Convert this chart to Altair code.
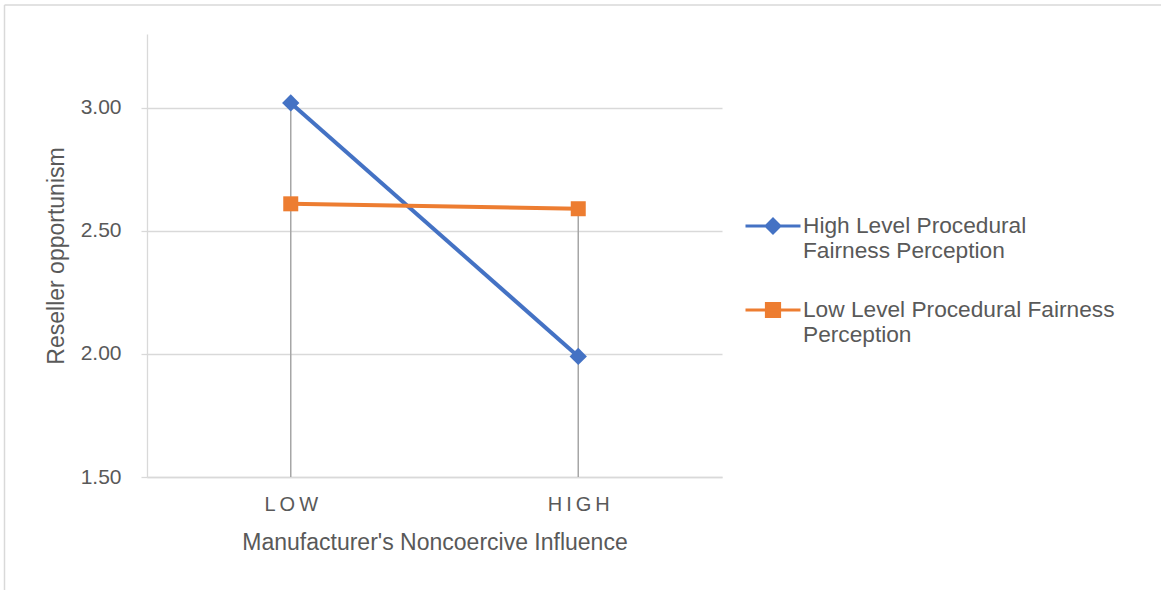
import altair as alt
import pandas as pd

# ---- data ----
categories = ["LOW", "HIGH"]
series_names = ["High Level Procedural Fairness Perception",
                "Low Level Procedural Fairness Perception"]
high_level_values = [3.02, 1.99]
low_level_values = [2.61, 2.59]
y_ticks = [1.5, 2.0, 2.5, 3.0]
y_domain = [1.5, 3.3]
series_colors = ["#4472C4", "#ED7D31"]
series_shapes = ["diamond", "square"]
marker_sizes = [300, 225]

rows = []
for s, vals in zip(series_names, [high_level_values, low_level_values]):
    for c, v in zip(categories, vals):
        rows.append({"category": c, "series": s, "value": v})
df = pd.DataFrame(rows)

drop = df.groupby("category", as_index=False)["value"].max()
drop["base"] = y_domain[0]

FONT = "Liberation Sans"
TXT = "#595959"
GRID = "#d9d9d9"

W, H = 575, 443
PAD_L, PAD_T = 147, 34
TOTAL_W, TOTAL_H = 1161, 590

# legend symbol paths (line + marker), unit = sqrt(size)/2
path_diamond = "M-1,0H1M-0.25,0L0,-0.25L0.25,0L0,0.25Z"
path_square = "M-1,0H1M-0.24,-0.24H0.24V0.24H-0.24Z"
sym_expr = f"datum.value == '{series_names[0]}' ? '{path_diamond}' : '{path_square}'"
label_expr = ("datum.value == 'High Level Procedural Fairness Perception' ? "
              "['High Level Procedural', 'Fairness Perception'] : "
              "['Low Level Procedural Fairness', 'Perception']")

x_enc = alt.X("category:N", sort=categories,
              scale=alt.Scale(type="point", padding=0.5, domain=categories),
              axis=alt.Axis(title="Manufacturer's Noncoercive Influence",
                            labelExpr="join(split(datum.label, ''), '\u2009')",
                            labelAngle=0, ticks=False, grid=False,
                            domainColor=GRID, domainWidth=1.3,
                            labelFontSize=20, titleFontSize=23,
                            labelPadding=17, titlePadding=17))
y_enc = alt.Y("value:Q",
              scale=alt.Scale(domain=y_domain, nice=False, zero=False),
              axis=alt.Axis(values=y_ticks, format=".2f", title="Reseller opportunism",
                            grid=True, gridColor=GRID, gridWidth=1.3,
                            domainColor=GRID, domainWidth=1.3,
                            tickColor=GRID, tickSize=6, tickWidth=1.3,
                            labelFontSize=21, titleFontSize=23,
                            labelPadding=20, titlePadding=12))
legend = alt.Legend(title=None, orient="none", legendX=597, legendY=163,
                    labelExpr=label_expr, labelLimit=400, labelFontSize=22.7,
                    labelColor=TXT, labelFont=FONT, padding=0, rowPadding=18,
                    symbolSize=3025, symbolStrokeWidth=3, labelOffset=1,
                    symbolType=alt.ExprRef(sym_expr),
                    symbolFillColor=alt.ExprRef("scale('color', datum.value)"),
                    symbolStrokeColor=alt.ExprRef("scale('color', datum.value)"))
color_enc = alt.Color("series:N", sort=series_names,
                      scale=alt.Scale(domain=series_names, range=series_colors),
                      legend=legend)

drops = alt.Chart(drop).mark_rule(color="#a6a6a6", strokeWidth=1.5).encode(
    x=alt.X("category:N", sort=categories), y=alt.Y("value:Q"), y2="base:Q")

lines = alt.Chart(df).mark_line(strokeWidth=4).encode(
    x=x_enc, y=y_enc, color=color_enc, order=alt.Order("category:N"))

point_layers = []
for s, shp, sz in zip(series_names, series_shapes, marker_sizes):
    point_layers.append(
        alt.Chart(df).transform_filter(alt.datum.series == s)
        .mark_point(filled=True, opacity=1, shape=shp, size=sz)
        .encode(x=alt.X("category:N", sort=categories), y="value:Q", color=color_enc))

one = alt.Data(values=[{"k": 1}])
border_left = alt.Chart(one).mark_rule(color=GRID, strokeWidth=1.5).encode(
    x=alt.value(4.5 - PAD_L), y=alt.value(5 - PAD_T), y2=alt.value(TOTAL_H - PAD_T))
border_top = alt.Chart(one).mark_rule(color=GRID, strokeWidth=1.5).encode(
    x=alt.value(4.5 - PAD_L), x2=alt.value(TOTAL_W - PAD_L), y=alt.value(5 - PAD_T))

chart = alt.layer(lines, drops, *point_layers, border_left, border_top).properties(
    width=W, height=H,
    autosize=alt.AutoSizeParams(type="none"),
    padding={"left": PAD_L, "top": PAD_T,
             "right": TOTAL_W - PAD_L - W, "bottom": TOTAL_H - PAD_T - H},
    background="white",
).configure(style={"guide-label": {"lineHeight": 25}}).configure_view(
    stroke=None
).configure_axis(
    labelFont=FONT, titleFont=FONT,
    labelColor=TXT, titleColor=TXT, titleFontWeight="normal",
)

chart.save("out.html", embed_options={"renderer": "svg", "actions": False})
